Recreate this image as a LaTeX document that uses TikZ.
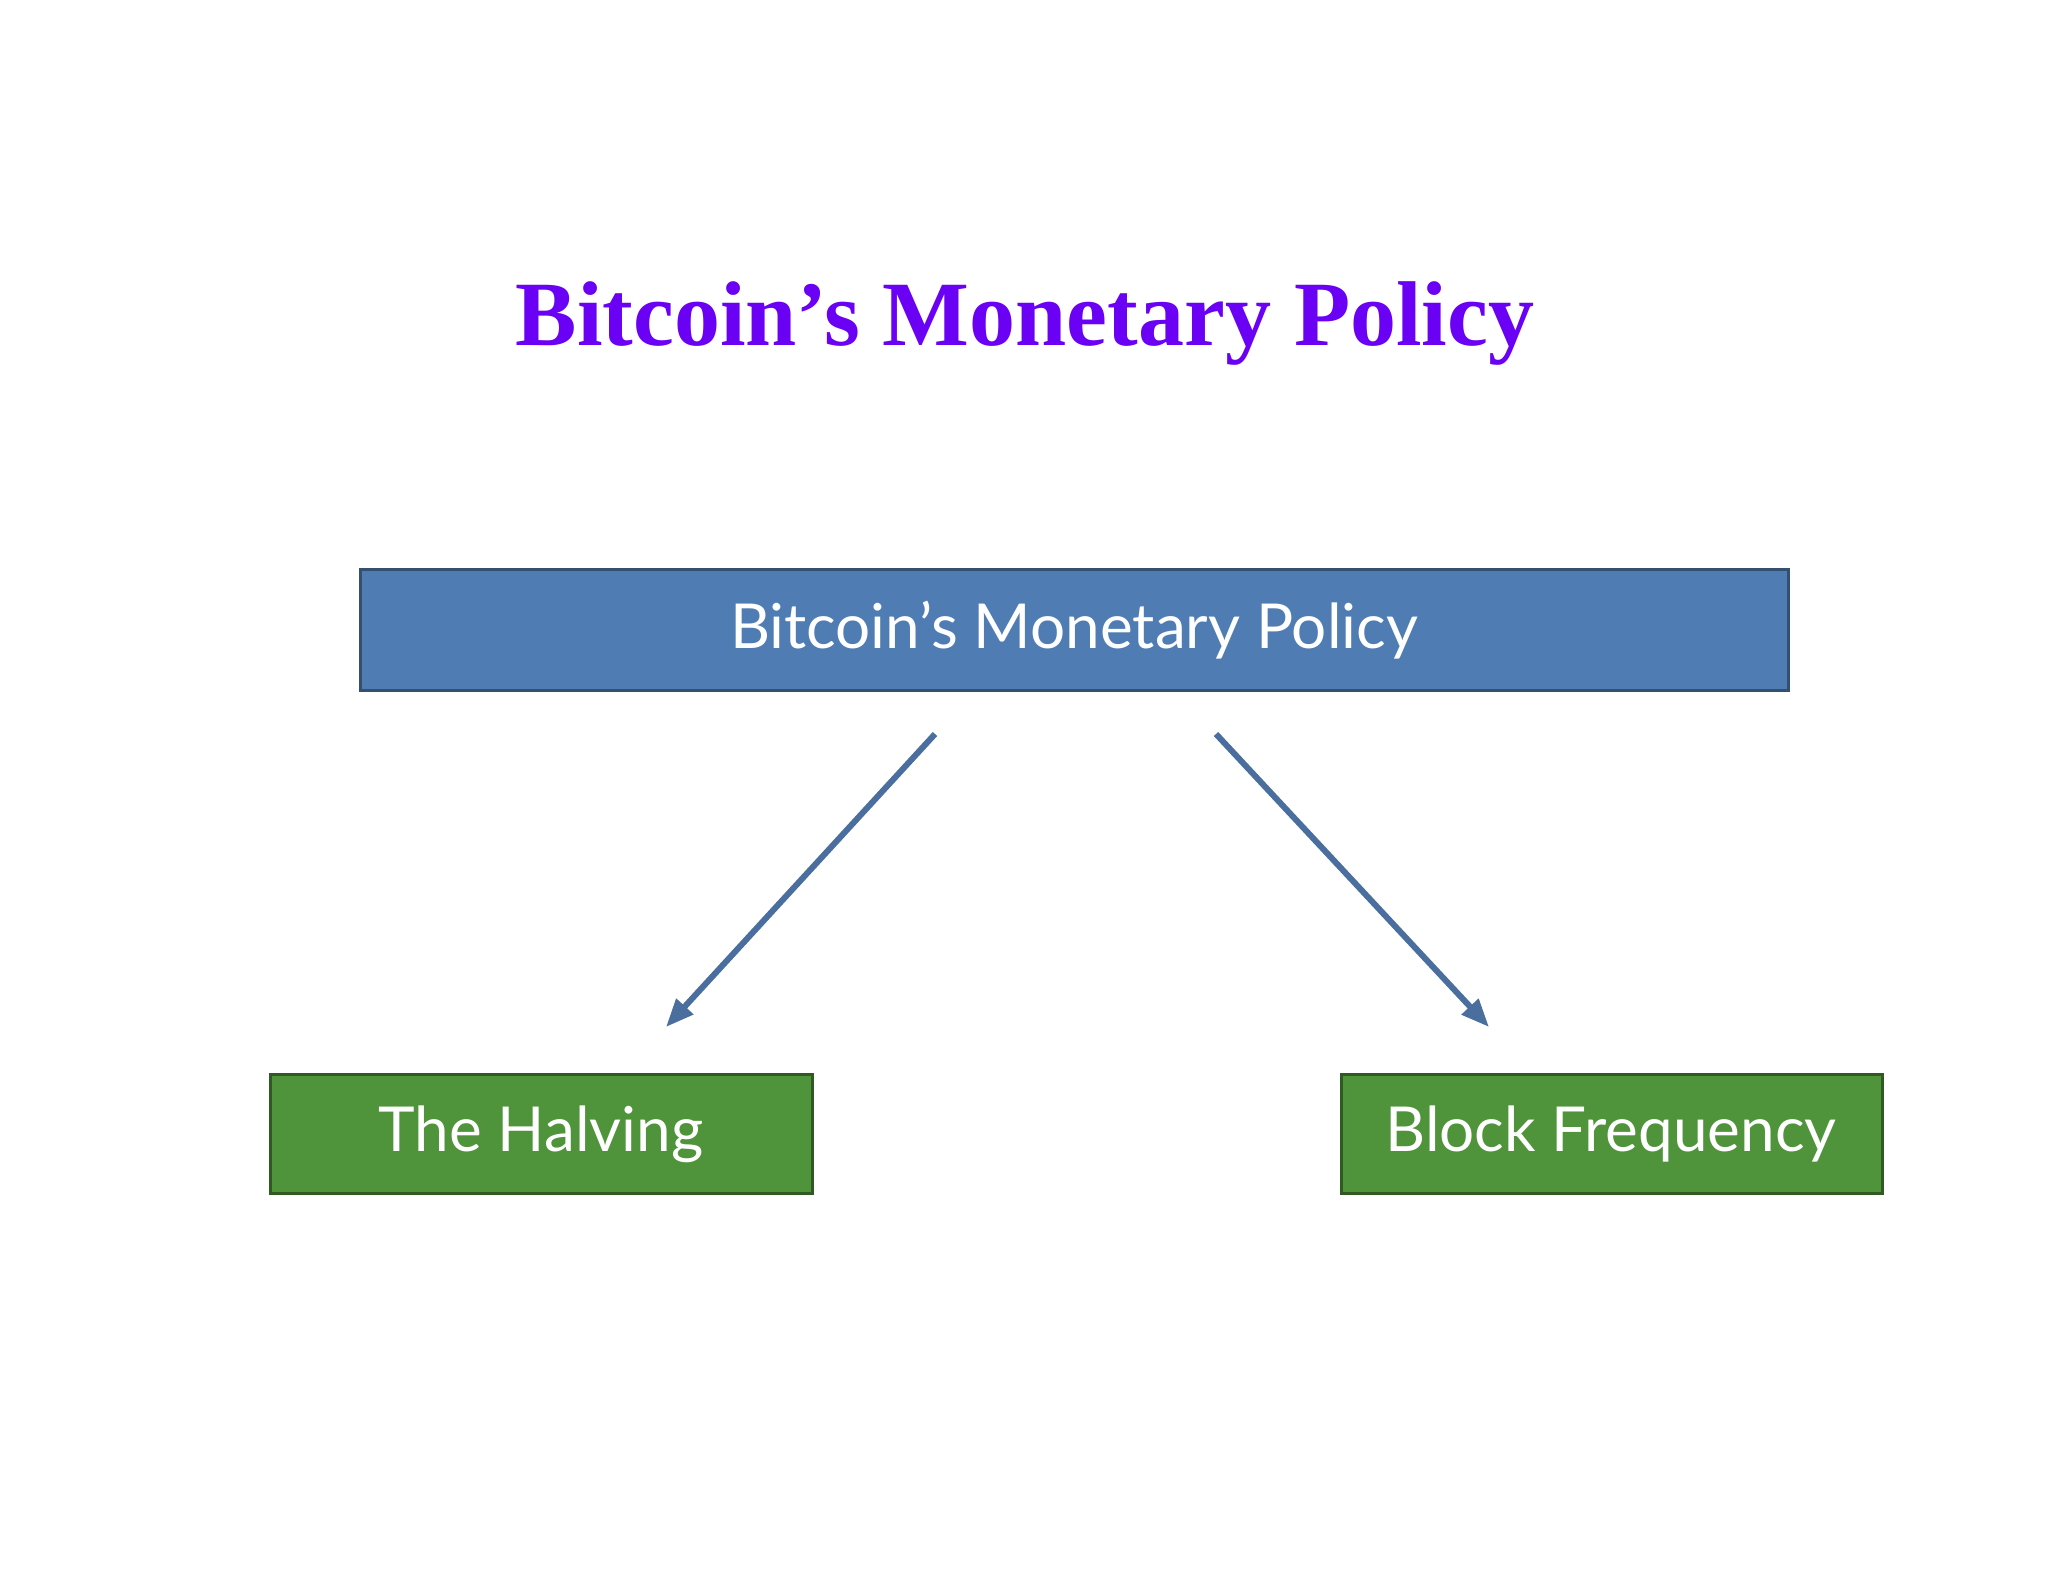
\documentclass[tikz,border=0pt]{standalone}
\usepackage{fontspec}
\setmainfont{Liberation Serif}
\newfontfamily\boxfont{Lato}
\usetikzlibrary{arrows.meta}
\definecolor{titlecol}{HTML}{6A00F4}
\definecolor{bluebox}{HTML}{4F7DB3}
\definecolor{blueedge}{HTML}{34506F}
\definecolor{greenbox}{HTML}{4F943B}
\definecolor{greenedge}{HTML}{2F5A22}
\definecolor{arrowcol}{HTML}{4A6E9E}
\tikzset{
 boxtext/.style={font=\boxfont\fontsize{62}{70}\selectfont, text=white, inner sep=0pt},
 conn/.style={line width=6pt, draw=arrowcol, -{Triangle[length=28pt,width=22pt]}}
}
\begin{document}
\begin{tikzpicture}[x=1pt,y=-1pt]
\useasboundingbox[fill=white] (0,0) rectangle (2048,1582);
\node[font=\bfseries\fontsize{92}{100}\selectfont, text=titlecol] (title) at (1025,324) {Bitcoin’s Monetary Policy};
\draw[fill=bluebox, draw=blueedge, line width=3pt] (360,569) rectangle (1788,690);
\node[boxtext] (top) at (1074,630) {Bitcoin’s Monetary Policy};
\draw[fill=greenbox, draw=greenedge, line width=3pt] (270,1074) rectangle (812,1193);
\node[boxtext] (left) at (541,1134) {The Halving};
\draw[fill=greenbox, draw=greenedge, line width=3pt] (1341,1074) rectangle (1882,1193);
\node[boxtext] (right) at (1611,1134) {Block Frequency};
\coordinate (s1) at (935,734); \coordinate (e1) at (666,1027);
\coordinate (s2) at (1216,734); \coordinate (e2) at (1489,1027);
\draw[conn] (s1) -- (e1);
\draw[conn] (s2) -- (e2);
\end{tikzpicture}
\end{document}
